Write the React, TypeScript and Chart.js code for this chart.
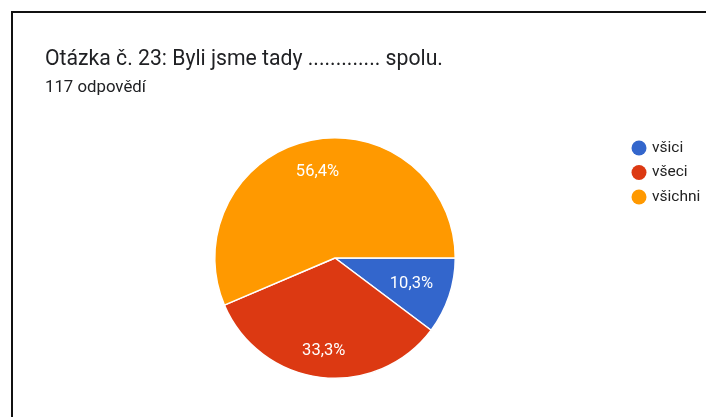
import React, { useEffect, useRef } from "react";
import { Chart, registerables } from "chart.js";

Chart.register(...registerables);

const title = "Otázka č. 23: Byli jsme tady ............. spolu.";
const subtitle = "117 odpovědí";
const categories = ["všici", "všeci", "všichni"];
const counts = [12, 39, 66];
const percentLabels = ["10,3%", "33,3%", "56,4%"];
const colors = ["#3366cc", "#dc3912", "#ff9900"];

const FONT = "Roboto, 'Noto Sans', sans-serif";

const sliceLabels = {
  id: "sliceLabels",
  afterDatasetsDraw(chart: any) {
    const ctx = chart.ctx;
    const meta = chart.getDatasetMeta(0);
    const radiusFactors = [0.67, 0.78, 0.73];
    ctx.save();
    ctx.fillStyle = "#ffffff";
    ctx.font = `16.5px ${FONT}`;
    ctx.textAlign = "center";
    ctx.textBaseline = "middle";
    meta.data.forEach((arc: any, i: number) => {
      const { x, y, startAngle, endAngle, outerRadius } = arc.getProps(
        ["x", "y", "startAngle", "endAngle", "outerRadius"],
        true
      );
      const mid = (startAngle + endAngle) / 2;
      const r = outerRadius * radiusFactors[i];
      ctx.fillText(percentLabels[i], x + Math.cos(mid) * r, y + Math.sin(mid) * r);
    });
    ctx.restore();
  },
};

const legendPlugin = {
  id: "customLegend",
  afterDraw(chart: any) {
    const ctx = chart.ctx;
    ctx.save();
    ctx.font = `15.5px ${FONT}`;
    ctx.textBaseline = "middle";
    ctx.textAlign = "left";
    categories.forEach((c, i) => {
      const cy = 148 + i * 24.5;
      ctx.beginPath();
      ctx.fillStyle = colors[i];
      ctx.arc(639, cy, 7.5, 0, Math.PI * 2);
      ctx.fill();
      ctx.fillStyle = "#222222";
      ctx.fillText(c, 652, cy);
    });
    ctx.restore();
  },
};

export default function App() {
  const canvasRef = useRef<HTMLCanvasElement>(null);

  useEffect(() => {
    if (!canvasRef.current) return;
    const chart = new Chart(canvasRef.current, {
      type: "pie",
      data: {
        labels: categories,
        datasets: [
          {
            data: counts,
            backgroundColor: colors,
            borderColor: "#ffffff",
            borderWidth: 1.5,
            hoverOffset: 0,
          },
        ],
      },
      options: {
        animation: false,
        responsive: false,
        rotation: 90,
        layout: { padding: { left: 214, right: 250, top: 137, bottom: 38 } },
        plugins: {
          legend: { display: false },
          tooltip: { enabled: false },
        },
      },
      plugins: [sliceLabels, legendPlugin],
    });
    return () => chart.destroy();
  }, []);

  return (
    <div
      style={{
        position: "fixed",
        left: 0,
        top: 0,
        width: 706,
        height: 417,
        background: "#fff",
        overflow: "hidden",
      }}
    >
      <canvas
        ref={canvasRef}
        width={706}
        height={417}
        style={{ position: "absolute", left: 0, top: 0, width: 706, height: 417 }}
      />
      <div
        style={{
          position: "absolute",
          left: 11,
          top: 11,
          right: 0,
          bottom: 0,
          borderTop: "2px solid #111",
          borderLeft: "2px solid #111",
          pointerEvents: "none",
        }}
      />
      <div
        style={{
          position: "absolute",
          left: 45,
          top: 45,
          fontFamily: FONT,
          fontSize: 21.2,
          color: "#202124",
          whiteSpace: "nowrap",
          lineHeight: "normal",
        }}
      >
        {title}
      </div>
      <div
        style={{
          position: "absolute",
          left: 45,
          top: 76,
          fontFamily: FONT,
          fontSize: 16.8,
          color: "#202124",
          whiteSpace: "nowrap",
          lineHeight: "normal",
        }}
      >
        {subtitle}
      </div>
    </div>
  );
}
